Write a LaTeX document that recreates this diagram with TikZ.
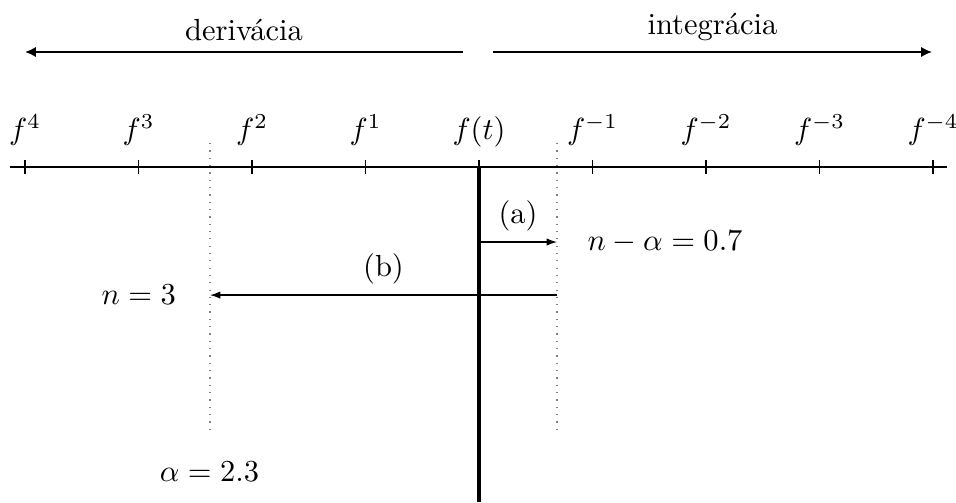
\documentclass[tikz,border=0pt]{standalone}
\usepackage{fontspec}
\usepackage{amsmath}
\usetikzlibrary{arrows.meta}
\tikzset{
  axisLine/.style={thin},
  tickMark/.style={thin},
  orderLabel/.style={anchor=base, inner sep=0pt},
  opArrow/.style={-{Latex[length=3.6pt,width=3.4pt]}, semithick},
  opLabel/.style={midway, above},
  shiftArrow/.style={-{Latex[length=3.4pt,width=2.4pt]}, thin},
  shiftLabel/.style={midway, above, inner sep=3.5pt},
  cutLine/.style={dotted, gray, thin},
  valueLabel/.style={inner sep=0pt},
  originLine/.style={very thick}
}
\begin{document}
\begin{tikzpicture}
  \useasboundingbox (-5.518,-3.859) rectangle (5.495,1.924);
  % direction of the operators
  \coordinate (derStart) at (-0.184,1.325);
  \coordinate (derEnd) at (-5.23,1.325);
  \coordinate (intStart) at (0.161,1.325);
  \coordinate (intEnd) at (5.219,1.325);
  \draw[opArrow] (derStart) -- node[opLabel] (derLabel) {derivácia} (derEnd);
  \draw[opArrow] (intStart) -- node[opLabel] (intLabel) {integrácia} (intEnd);
  % axis of orders
  \coordinate (axL) at (-5.403,0);
  \coordinate (axR) at (5.391,0);
  \draw[axisLine] (axL) -- (axR);
  \foreach \k/\lab [count=\i] in {-4/{f^4},-3/{f^3},-2/{f^2},-1/{f^1},0/{f(t)},1/{f^{-1}},2/{f^{-2}},3/{f^{-3}},4/{f^{-4}}}{
    \draw[tickMark] (\k*1.3075,0.08) -- (\k*1.3075,-0.08);
    \node[orderLabel] (ord\i) at (\k*1.3075,0.32) {$\lab$};
  }
  % f(t) line and the two cuts
  \coordinate (origin) at (0,0);
  \coordinate (originEnd) at (0,-3.859);
  \draw[originLine] (origin) -- (originEnd);
  \coordinate (cutNTop) at (-3.099,0.276);
  \coordinate (cutNBot) at (-3.099,-3.053);
  \coordinate (cutATop) at (0.899,0.276);
  \coordinate (cutABot) at (0.899,-3.053);
  \draw[cutLine] (cutNTop) -- (cutNBot);
  \draw[cutLine] (cutATop) -- (cutABot);
  % steps (a) and (b)
  \coordinate (aStart) at (0,-0.864);
  \coordinate (aEnd) at (0.899,-0.864);
  \draw[shiftArrow] (aStart) -- node[shiftLabel] (aLabel) {(a)} (aEnd);
  \coordinate (bStart) at (0.899,-1.475);
  \coordinate (bEnd) at (-3.099,-1.475);
  \draw[shiftArrow] (bStart) -- node[shiftLabel] (bLabel) {(b)} (bEnd);
  \node[valueLabel, anchor=west] (restVal) at (1.244,-0.864) {$n-\alpha=0.7$};
  \node[valueLabel] (nVal) at (-3.92,-1.475) {$n=3$};
  \node[valueLabel] (alphaVal) at (-3.105,-3.514) {$\alpha=2.3$};
\end{tikzpicture}
\end{document}
